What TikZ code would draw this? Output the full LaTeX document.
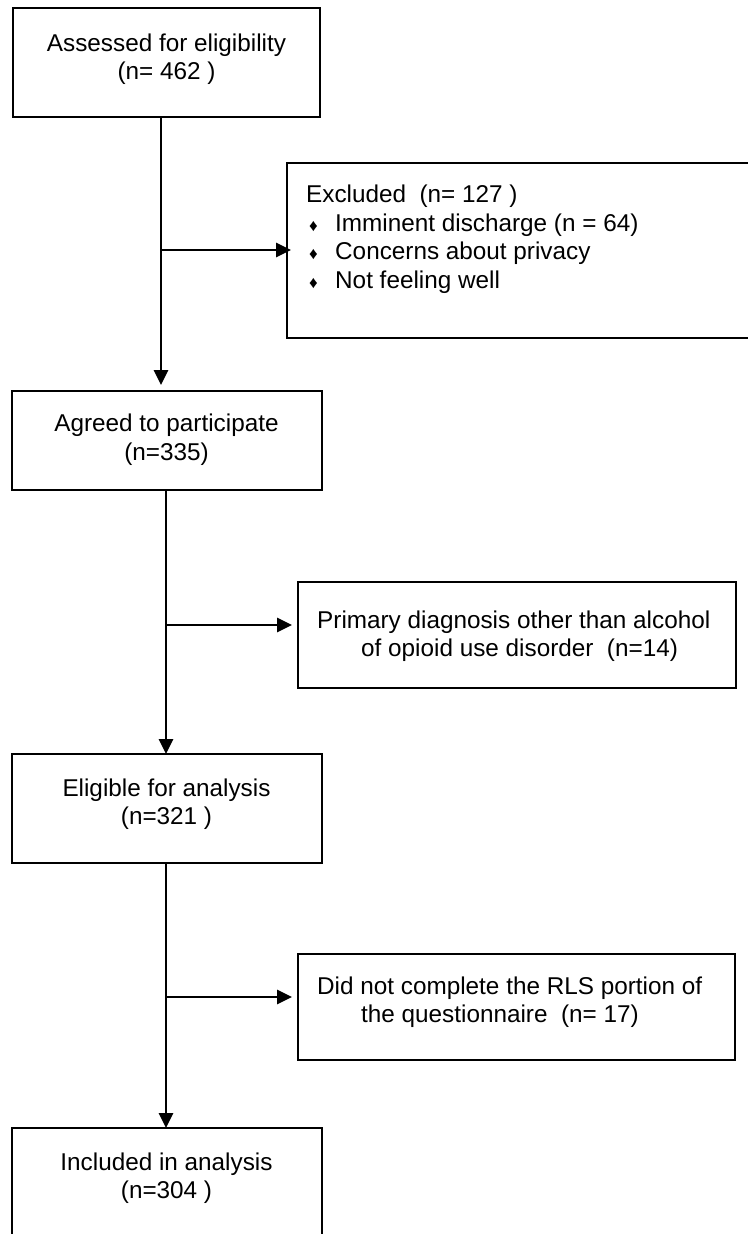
\documentclass[tikz,border=0pt]{standalone}
\usepackage{fontspec}
\setmainfont{Liberation Sans}
\usetikzlibrary{arrows.meta}
\begin{document}
\begin{tikzpicture}[x=1pt,y=1pt,
  box/.style={draw=black,line width=2.2pt,inner sep=0pt,outer sep=0pt},
  txt/.style={inner sep=0pt,font=\fontsize{24.3}{28.5}\selectfont},
  arr/.style={line width=2.8pt,-{Triangle[length=15pt,width=14pt]}}]
\useasboundingbox (0,0) rectangle (747,-1234);
% boxes
\node[box,minimum width=307pt,minimum height=109pt] (b1) at (166.5,-62.5) {};
\node[box,minimum width=310pt,minimum height=99pt] (b2) at (167,-440.5) {};
\node[box,minimum width=310pt,minimum height=109pt] (b3) at (167,-808.5) {};
\node[box,minimum width=310pt,minimum height=112pt] (b4) at (167,-1184) {};
\node[box,minimum width=480pt,minimum height=175pt] (ex) at (527,-250.5) {};
\node[box,minimum width=438pt,minimum height=106pt] (pd) at (517,-635) {};
\node[box,minimum width=437pt,minimum height=106pt] (nc) at (516.5,-1007) {};
% texts
\node[txt,align=center] (t1) at (166.5,-59) {Assessed for eligibility\\(n= 462 )};
\node[txt,align=center] (t2) at (166.5,-439.5) {Agreed to participate\\(n=335)};
\node[txt,align=center] (t3) at (166.5,-804) {Eligible for analysis\\(n=321 )};
\node[txt,align=center] (t4) at (166.5,-1178) {Included in analysis\\(n=304 )};
\node[txt,align=left,anchor=west] (tex) at (306,-239) {Excluded\ \ (n= 127\ )\\
\hspace*{3pt}\makebox[26pt][l]{\fontsize{17}{17}\selectfont ♦}Imminent discharge (n = 64)\\
\hspace*{3pt}\makebox[26pt][l]{\fontsize{17}{17}\selectfont ♦}Concerns about privacy\\
\hspace*{3pt}\makebox[26pt][l]{\fontsize{17}{17}\selectfont ♦}Not feeling well};
\node[txt,align=left,anchor=west] (tpd) at (317,-636) {Primary diagnosis other than alcohol\\\hspace*{44pt}of opioid use disorder\ \ (n=14)};
\node[txt,align=left,anchor=west] (tnc) at (317,-1002) {Did not complete the RLS portion of\\\hspace*{44pt}the questionnaire\ \ (n= 17)};
% junctions
\coordinate (j1) at (161,-250);
\coordinate (j2) at (166,-625);
\coordinate (j3) at (166,-997);
% connectors
\draw[arr,shorten >=6pt] (b1.south -| j1) -- (j1 |- b2.north);
\draw[arr,shorten >=-4pt] ([xshift=-1pt]j1) -- (ex.west |- j1);
\draw[arr] (b2.south -| j2) -- (j2 |- b3.north);
\draw[arr,shorten >=6pt] ([xshift=-1pt]j2) -- (pd.west |- j2);
\draw[arr] (b3.south -| j3) -- (j3 |- b4.north);
\draw[arr,shorten >=6pt] ([xshift=-1pt]j3) -- (nc.west |- j3);
\end{tikzpicture}
\end{document}
